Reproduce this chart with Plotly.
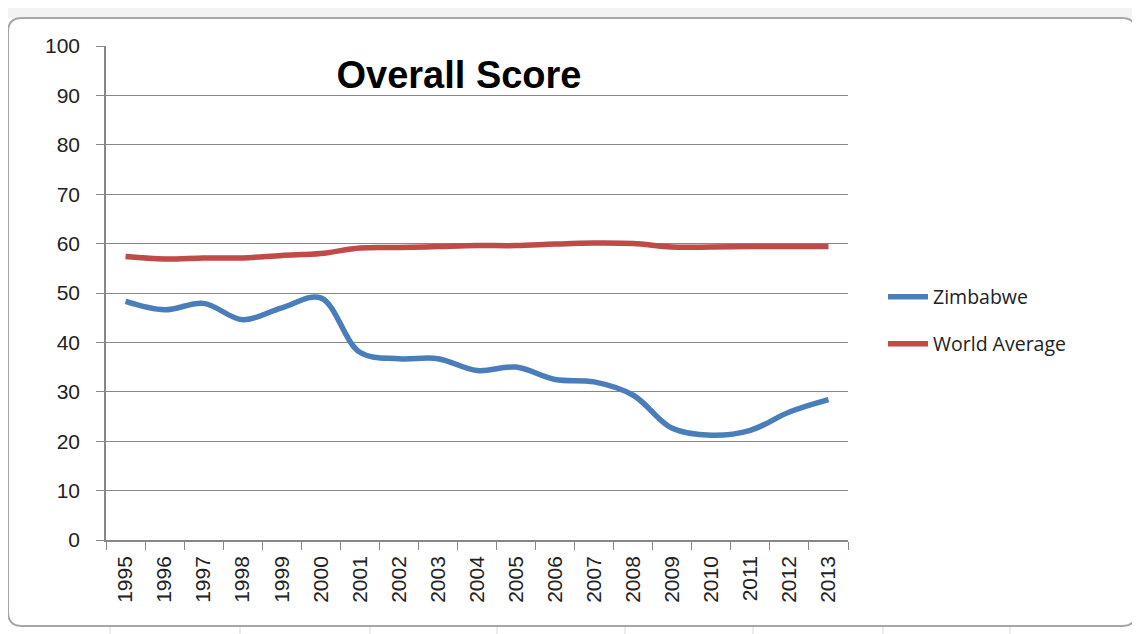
import plotly.graph_objects as go

years = [str(y) for y in range(1995, 2014)]
zimbabwe = [48.3, 46.6, 47.9, 44.6, 47.0, 49.0, 38.0, 36.7, 36.7, 34.3, 35.0,
            32.5, 32.0, 29.3, 22.6, 21.2, 22.2, 25.9, 28.4]
world_avg = [57.4, 56.9, 57.1, 57.1, 57.6, 58.0, 59.1, 59.2, 59.4, 59.6, 59.6,
             59.9, 60.1, 60.0, 59.3, 59.3, 59.4, 59.4, 59.4]
y_ticks = list(range(0, 101, 10))

BLUE = "#4a7ebb"
RED = "#be4b48"
AXIS = "#878787"
FONT = "Liberation Sans, Arial, sans-serif"

fig = go.Figure()
fig.add_trace(go.Scatter(x=years, y=zimbabwe, name="Zimbabwe", mode="lines",
                         line=dict(color=BLUE, width=5.5, shape="spline", smoothing=1),
                         legend="legend"))
fig.add_trace(go.Scatter(x=years, y=world_avg, name="World Average", mode="lines",
                         line=dict(color=RED, width=5.5, shape="spline", smoothing=1),
                         legend="legend2"))

legend_font = dict(family="Open Sans, DejaVu Sans, sans-serif", size=19.5, color="#222")

# The page body adds an 8px offset, so the figure is 8px smaller than the window.
fig.update_layout(
    width=1132, height=626,
    margin=dict(l=98, r=292, t=38, b=94),
    paper_bgcolor="white",
    plot_bgcolor="white",
    showlegend=True,
    title=dict(text="<b>Overall Score</b>", x=(459-8)/1132, xanchor="center",
               y=1-(75-8)/626, yanchor="middle",
               font=dict(family=FONT, size=38, color="black")),
    legend=dict(x=(883-106)/742, y=(540-297)/494, xanchor="left", yanchor="middle",
                font=legend_font, bgcolor="rgba(0,0,0,0)", itemwidth=40),
    legend2=dict(x=(883-106)/742, y=(540-344)/494, xanchor="left", yanchor="middle",
                 font=legend_font, bgcolor="rgba(0,0,0,0)", itemwidth=40),
    xaxis=dict(type="category", range=[-0.5, 18.5], tickangle=-90,
               showline=True, linecolor=AXIS, linewidth=1.5,
               ticks="outside", tickson="boundaries", ticklen=8, tickcolor=AXIS,
               ticklabelstandoff=6,
               showgrid=False, zeroline=False,
               tickfont=dict(family=FONT, size=21, color="#222")),
    yaxis=dict(range=[0, 100], tickvals=y_ticks,
               showline=True, linecolor=AXIS, linewidth=1.5,
               ticks="outside", ticklen=8, tickcolor=AXIS, ticklabelstandoff=12,
               showgrid=True, gridcolor=AXIS, gridwidth=1, zeroline=False,
               tickfont=dict(family=FONT, size=21, color="#222")),
)

def px(xp):
    return (xp - 106) / 742
def py(yp):
    return (540 - yp) / 494

# Excel sheet cell lines in the background
for xp in [110, 240, 370, 497, 625, 753, 883, 1010]:
    fig.add_shape(type="line", xref="paper", yref="paper",
                  x0=px(xp), x1=px(xp), y0=py(8), y1=py(18),
                  line=dict(color="#d9d9d9", width=1), layer="below")
    fig.add_shape(type="line", xref="paper", yref="paper",
                  x0=px(xp), x1=px(xp), y0=py(627), y1=py(634),
                  line=dict(color="#d9d9d9", width=1), layer="below")
fig.add_shape(type="rect", xref="paper", yref="paper",
              x0=px(8), x1=px(1140), y0=py(8), y1=py(18),
              fillcolor="#f3f3f3", line=dict(width=0), layer="below")

# Rounded chart border
L, R, T, B, r = 8, 1136, 18, 626, 14
path = (f"M {px(L+r)},{py(T)} L {px(R-r)},{py(T)} Q {px(R)},{py(T)} {px(R)},{py(T+r)} "
        f"L {px(R)},{py(B-r)} Q {px(R)},{py(B)} {px(R-r)},{py(B)} "
        f"L {px(L+r)},{py(B)} Q {px(L)},{py(B)} {px(L)},{py(B-r)} "
        f"L {px(L)},{py(T+r)} Q {px(L)},{py(T)} {px(L+r)},{py(T)} Z")
fig.add_shape(type="path", xref="paper", yref="paper", path=path,
              fillcolor="white", line=dict(color="#a6a6a6", width=2), layer="below")

fig.write_html("out.html")
